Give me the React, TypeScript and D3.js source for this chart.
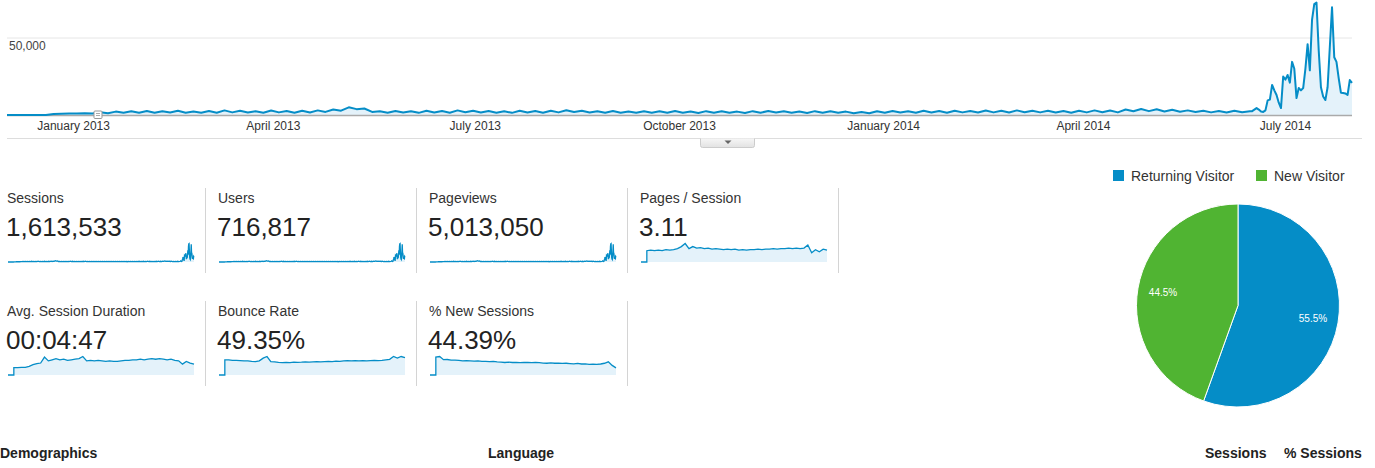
import * as d3 from "d3"

const FONT = "'Liberation Sans', Arial, Helvetica, sans-serif"
const BLUE = "#058dc7"
const GREEN = "#50b432"
const AREA = "#e4f2fa"

// Sessions sampled twice a week from Dec 2 2012 to Jun 15 2014
const halfWeekStart = new Date(2012, 11, 2)
const halfWeekSessions = [
  0, 0, 0, 0, 0, 0,
  600, 800, 1000, 900, 1200, 1000, 1800, 1200, 2200, 1400,
  2400, 1500, 2600, 1400, 2500, 1600, 2800, 1500, 2300, 1400, 2600, 1500,
  3000, 1700, 2700, 1600, 2500, 1500, 2900, 1700, 2600, 1500, 2800, 1600,
  3000, 2000, 3600, 2800, 5000, 3800, 4200, 2000,
  2400, 1500, 2600, 1600, 2500, 1400, 2700, 1600, 2600, 1500, 3000, 1800,
  2800, 1600, 2600, 1500, 2400, 1400, 2700, 1600, 2600, 1500, 2800, 1700,
  3100, 1900, 2700, 1600, 2500, 1500, 2600, 1500,
  2300, 1400, 2500, 1500, 2400, 1400, 2600, 1500, 2300, 1300, 2500, 1500,
  2400, 1400, 2200, 1300, 2500, 1500, 2600, 1600, 2400, 1400, 2300, 1300,
  2500, 1500, 2400, 1400, 2200, 1200, 2000, 1100,
  2400, 1400, 2600, 1600, 2500, 1500, 2700, 1600, 2600, 1500, 2800, 1700,
  2600, 1600, 2900, 1700, 2700, 1600, 3000, 1800, 2800, 1700, 2700, 1600,
  2600, 1500, 2800, 1700, 3000, 1800, 2900, 1700,
  3600, 2400, 3900, 2500, 3700, 2300, 3400, 2100, 3000, 1900, 2700, 1700,
  2600, 1600, 2800, 1800,
  2500,
]

// Daily sessions from Jun 16 2014 to Jul 31 2014
const dailyStart = new Date(2014, 5, 16)
const dailySessions = [
  2500, 3500, 4500, 3500, 2200, 2000, 3000, 9500, 10000, 19500,
  16000, 13000, 8000, 4500, 25000, 23000, 26000, 21000, 34500, 30000,
  11000, 17500, 16000, 17500, 30000, 46000, 29000, 62000, 72000, 73000,
  42000, 18000, 12000, 9700, 18000, 44000, 70000, 37500, 34500, 24000,
  14500, 14300, 14000, 13000, 22700, 20800,
]

const yTicks = [50000]
const xTicks = ["2013-01-01", "2013-04-01", "2013-07-01", "2013-10-01", "2014-01-01", "2014-04-01", "2014-07-01"]
const annotationDate = "2013-01-12"

const metricNames = ["Sessions", "Users", "Pageviews", "Pages / Session", "Avg. Session Duration", "Bounce Rate", "% New Sessions"]
const metricValues = ["1,613,533", "716,817", "5,013,050", "3.11", "00:04:47", "49.35%", "44.39%"]

const pagesPerSession = [
  2.64, 2.76, 2.64, 2.76, 2.64, 2.88, 2.76, 2.88, 3.12, 3.6, 4.32, 3.12, 3.6, 3.24, 3.36, 3.12,
  3.24, 3.0, 3.12, 3.0, 2.88, 3.0, 2.88, 3.0, 2.76, 2.88, 2.76, 2.88, 2.88, 3.0, 2.88, 3.0,
  3.0, 3.12, 3.0, 3.12, 3.12, 3.24, 3.12, 3.24, 3.12, 3.24, 3.96, 2.16, 2.88, 2.4, 3.0, 2.76,
]
const avgDuration = [
  144, 144, 150, 150, 172, 204, 226, 237, 355, 280, 301, 323, 301, 312, 290, 301,
  312, 323, 366, 280, 290, 280, 290, 280, 269, 280, 269, 269, 280, 290, 290, 301,
  301, 312, 301, 312, 323, 312, 323, 312, 301, 312, 290, 280, 215, 269, 237, 215,
]
const bounceRate = [
  53.3, 53.3, 51.5, 51.5, 50.8, 49.7, 49.7, 47.9, 47.2, 49.7, 59.3, 65.0, 47.2, 46.2, 44.4, 43.7,
  44.4, 43.7, 45.1, 44.4, 45.1, 46.2, 45.1, 46.2, 47.2, 46.2, 47.2, 47.9, 47.2, 48.6, 47.9, 49.7,
  50.8, 49.7, 50.8, 49.7, 50.8, 49.7, 50.8, 51.5, 50.8, 51.5, 53.3, 55.0, 65.0, 59.3, 65.0, 61.4,
]
const newSessions = [
  64.0, 66.3, 54.8, 55.5, 53.6, 53.6, 52.5, 50.9, 51.7, 50.6, 49.8, 50.6, 49.0, 48.6, 47.9, 48.6,
  47.1, 46.0, 44.8, 46.0, 44.8, 45.2, 44.0, 45.2, 44.8, 44.0, 45.2, 44.0, 42.9, 42.1, 43.3, 42.1,
  42.9, 41.4, 42.1, 41.0, 40.2, 41.4, 39.4, 40.2, 38.3, 39.1, 38.3, 39.4, 42.1, 47.1, 34.5, 25.7,
]

const pieLabels = ["Returning Visitor", "New Visitor"]
const pieValues = [55.5, 44.5]
const pieColors = [BLUE, GREEN]

const footerLabels = ["Demographics", "Language", "Sessions", "% Sessions"]

type Pt = { date: Date; v: number }

const parse = d3.timeParse("%Y-%m-%d")
const sessions: Pt[] = [
  ...halfWeekSessions.map((v, i) => ({ date: d3.timeHour.offset(halfWeekStart, 84 * i), v })),
  ...dailySessions.map((v, i) => ({ date: d3.timeDay.offset(dailyStart, i), v })),
]
const domainStart = sessions[0].date
const domainEnd = sessions[sessions.length - 1].date
const ratioStart = new Date(2012, 11, 21)

function ratioSeries(values: number[]): Pt[] {
  const t = d3.scaleLinear().domain([0, values.length - 1]).range([ratioStart.getTime(), domainEnd.getTime()])
  return [
    { date: domainStart, v: 0 },
    { date: ratioStart, v: 0 },
    ...values.map((v, i) => ({ date: new Date(t(i)), v })),
  ]
}

const sparkData: Pt[][] = [
  sessions,
  sessions,
  sessions,
  ratioSeries(pagesPerSession),
  ratioSeries(avgDuration),
  ratioSeries(bounceRate),
  ratioSeries(newSessions),
]

function Spark({ data, x0, x1, base }: { data: Pt[]; x0: number; x1: number; base: number }) {
  const sx = d3.scaleTime().domain([domainStart, domainEnd]).range([x0, x1])
  const sy = d3.scaleLinear().domain([0, d3.max(data, (d) => d.v)!]).range([base, base - 18.5])
  const area = d3.area<Pt>().x((d) => sx(d.date)).y0(base).y1((d) => sy(d.v))
  const line = d3.line<Pt>().x((d) => sx(d.date)).y((d) => sy(d.v))
  return (
    <g>
      <path d={area(data)!} fill={AREA} />
      <path d={line(data)!} fill="none" stroke={BLUE} strokeWidth={1.3} />
    </g>
  )
}

export default function App() {
  const width = 1375
  const height = 468
  const left = 7
  const right = 1352
  const base = 115

  const x = d3.scaleTime().domain([domainStart, domainEnd]).range([left, right])
  const y = d3.scaleLinear().domain([0, 50000]).range([base, 38])
  const area = d3.area<Pt>().x((d) => x(d.date)).y0(base).y1((d) => y(d.v))
  const line = d3.line<Pt>().x((d) => x(d.date)).y((d) => y(d.v))
  const monthFmt = d3.timeFormat("%B %Y")
  const numFmt = d3.format(",")

  const pie = d3.pie<number>().sort(null)(pieValues)
  const r = 101.5
  const cx = 1238
  const cy = 305.5
  const arc = d3.arc<d3.PieArcDatum<number>>().innerRadius(0).outerRadius(r)
  const labelArc = d3.arc<d3.PieArcDatum<number>>().innerRadius(r * 0.75).outerRadius(r * 0.75)
  const legendX = [1113, 1256]

  const annX = x(parse(annotationDate)!)
  const footerX = [0, 488, 1205, 1284]

  return (
    <svg width={width} height={height} style={{ position: "absolute", left: 0, top: 0, background: "#fff" }} fontFamily={FONT}>
      {/* main timeline */}
      {yTicks.map((t) => (
        <g key={t}>
          <line x1={left} x2={right} y1={y(t)} y2={y(t)} stroke="#e6e6e6" />
          <text x={9} y={y(t) + 12} fontSize={12} fill="#444">{numFmt(t)}</text>
        </g>
      ))}
      <path d={area(sessions)!} fill={AREA} />
      <line x1={left} x2={right} y1={base + 0.5} y2={base + 0.5} stroke="#aaa" strokeWidth={1.5} />
      <path d={line(sessions)!} fill="none" stroke={BLUE} strokeWidth={2} strokeLinejoin="round" />
      <g transform={`translate(${annX},${base})`}>
        <rect x={-4} y={-4} width={8} height={7.5} rx={1} fill="#fff" stroke="#999" />
        <line x1={-2} x2={2} y1={-1.5} y2={-1.5} stroke="#aaa" />
        <line x1={-2} x2={2} y1={0.5} y2={0.5} stroke="#aaa" />
      </g>
      {xTicks.map((t) => {
        const d = parse(t)!
        return (
          <text key={t} x={x(d)} y={130} fontSize={12} fill="#333" textAnchor="middle">{monthFmt(d)}</text>
        )
      })}
      <line x1={left} x2={1362} y1={138.5} y2={138.5} stroke="#ddd" />
      <defs>
        <linearGradient id="tab" x1="0" x2="0" y1="0" y2="1">
          <stop offset="0" stopColor="#f6f6f6" />
          <stop offset="1" stopColor="#e2e2e2" />
        </linearGradient>
      </defs>
      <path d="M700.5,138.5 V145.5 Q700.5,147.5 702.5,147.5 H752.5 Q754.5,147.5 754.5,145.5 V138.5" fill="url(#tab)" stroke="#ccc" />
      <path d="M724.5,140.5 H731.5 L728,144 Z" fill="#666" />

      {/* metric tiles */}
      {metricNames.map((name, i) => {
        const row = i < 4 ? 0 : 1
        const col = i < 4 ? i : i - 4
        const tx = 7 + col * 211
        const dy = row * 113
        return (
          <g key={name}>
            <text x={tx} y={203 + dy} fontSize={14} fill="#333">{name}</text>
            <text x={tx - 1} y={236 + dy} fontSize={26} fill="#222">{metricValues[i]}</text>
            <Spark data={sparkData[i]} x0={tx + 1} x1={tx + 187} base={262 + dy} />
            <line x1={tx + 198.5} x2={tx + 198.5} y1={188 + dy} y2={273 + dy} stroke="#d4d4d4" />
          </g>
        )
      })}

      {/* visitor type pie */}
      {pieLabels.map((l, i) => (
        <g key={l}>
          <rect x={legendX[i]} y={170} width={11} height={11} fill={pieColors[i]} />
          <text x={legendX[i] + 18} y={181} fontSize={14} fill="#333">{l}</text>
        </g>
      ))}
      <g transform={`translate(${cx},${cy})`}>
        {pie.map((p, i) => (
          <path key={i} d={arc(p)!} fill={pieColors[i]} stroke="#fff" strokeWidth={1} />
        ))}
        {pie.map((p, i) => {
          const [lx, ly] = labelArc.centroid(p)
          return (
            <text key={i} x={lx} y={ly} fontSize={10} fill="#fff" textAnchor="middle" dominantBaseline="central">
              {pieValues[i].toFixed(1)}%
            </text>
          )
        })}
      </g>

      {/* footer headers */}
      {footerLabels.map((l, i) => (
        <text key={l} x={footerX[i]} y={458} fontSize={14} fontWeight="bold" fill="#222">{l}</text>
      ))}
    </svg>
  )
}
